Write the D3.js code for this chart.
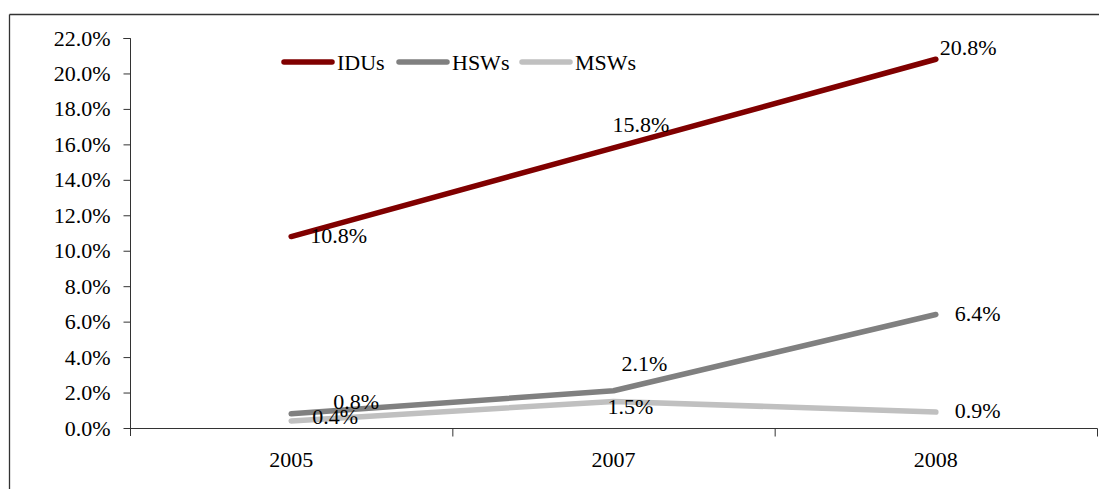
<!DOCTYPE html>
<html>
<head>
<meta charset="utf-8">
<script src="https://cdn.jsdelivr.net/npm/d3@7"></script>
<style>
html,body{margin:0;padding:0;background:#fff;}
svg{display:block;}
text{font-family:"Liberation Serif","Times New Roman",serif;fill:#000;}
</style>
</head>
<body>
<svg id="chart" width="1099" height="489"></svg>
<script>
const categories = ["2005", "2007", "2008"];
const seriesNames = ["IDUs", "HSWs", "MSWs"];
const idus = [10.8, 15.8, 20.8];
const hsws = [0.8, 2.1, 6.4];
const msws = [0.4, 1.5, 0.9];
const yTicks = [0, 2, 4, 6, 8, 10, 12, 14, 16, 18, 20, 22];
const colors = ["#800000", "#808080", "#c0c0c0"];
// label offsets (px) from each point: [dx, dy]
const labelOffsets = [
  [[19, -1.5], [-1, -23], [4, -12]],
  [[42, -12], [8, -27], [19, -1]],
  [[21, -4], [-6, 5], [19, -2]]
];

(function () {
const series = [idus, hsws, msws];
const svg = d3.select("#chart");
const W = 1099, H = 489;

// outer frame
svg.append("line").attr("x1", 9.5).attr("x2", W).attr("y1", 14.5).attr("y2", 14.5).attr("stroke", "#333").attr("stroke-width", 1.3);
svg.append("line").attr("x1", 9.5).attr("x2", 9.5).attr("y1", 14.5).attr("y2", H).attr("stroke", "#333").attr("stroke-width", 1.3);

const pLeft = 130, pRight = 1097, pTop = 38, pBottom = 428;
const x = d3.scaleBand().domain(categories).range([pLeft, pRight]).padding(0);
const y = d3.scaleLinear().domain([0, 22]).range([pBottom, pTop]);
const cx = c => x(c) + x.bandwidth() / 2;

// y axis
const yAxis = d3.axisLeft(y).tickValues(yTicks).tickSize(7).tickPadding(13)
  .tickFormat(d => d.toFixed(1) + "%");
const gy = svg.append("g").attr("transform", `translate(${pLeft + 0.5},0)`).call(yAxis);
gy.selectAll("path.domain").attr("stroke", "#333").attr("d", `M-7,${pTop + 0.5}H0V${pBottom + 8}`);
gy.selectAll(".tick line").attr("stroke", "#333");
gy.selectAll(".tick text").style("font-size", "22px").style("font-family", "Liberation Serif");

// x axis
const gx = svg.append("g").attr("transform", `translate(0,${pBottom + 0.5})`);
gx.append("line").attr("x1", pLeft).attr("x2", pRight + 0.5).attr("y1", 0).attr("y2", 0).attr("stroke", "#333");
const boundaries = categories.map(c => x(c)).concat([x(categories[categories.length - 1]) + x.bandwidth()]);
gx.selectAll("line.b").data(boundaries.slice(1)).enter().append("line")
  .attr("x1", d => d + 0.5).attr("x2", d => d + 0.5).attr("y1", 0).attr("y2", 8).attr("stroke", "#333");
gx.selectAll("text").data(categories).enter().append("text")
  .attr("x", d => cx(d)).attr("y", 38).attr("text-anchor", "middle")
  .style("font-size", "22px").text(d => d);

// lines
const line = d3.line().x((d, i) => cx(categories[i])).y(d => y(d));
series.forEach((s, k) => {
  svg.append("path").datum(s).attr("d", line).attr("fill", "none")
    .attr("stroke", colors[k]).attr("stroke-width", 5.5)
    .attr("stroke-linecap", "round").attr("stroke-linejoin", "round");
});

// labels
series.forEach((s, k) => {
  s.forEach((v, i) => {
    svg.append("text")
      .attr("x", cx(categories[i]) + labelOffsets[k][i][0])
      .attr("y", y(v) + labelOffsets[k][i][1])
      .attr("dominant-baseline", "central")
      .style("font-size", "22px")
      .text(v.toFixed(1) + "%");
  });
});

// legend
const legendX = [282, 397, 520];
const legendY = 62;
seriesNames.forEach((n, k) => {
  svg.append("line").attr("x1", legendX[k] + 2).attr("x2", legendX[k] + 50)
    .attr("y1", legendY).attr("y2", legendY)
    .attr("stroke", colors[k]).attr("stroke-width", 5.5).attr("stroke-linecap", "round");
  svg.append("text").attr("x", legendX[k] + 55).attr("y", legendY)
    .attr("dominant-baseline", "central").style("font-size", "22px").text(n);
});
})();
</script>
</body>
</html>
